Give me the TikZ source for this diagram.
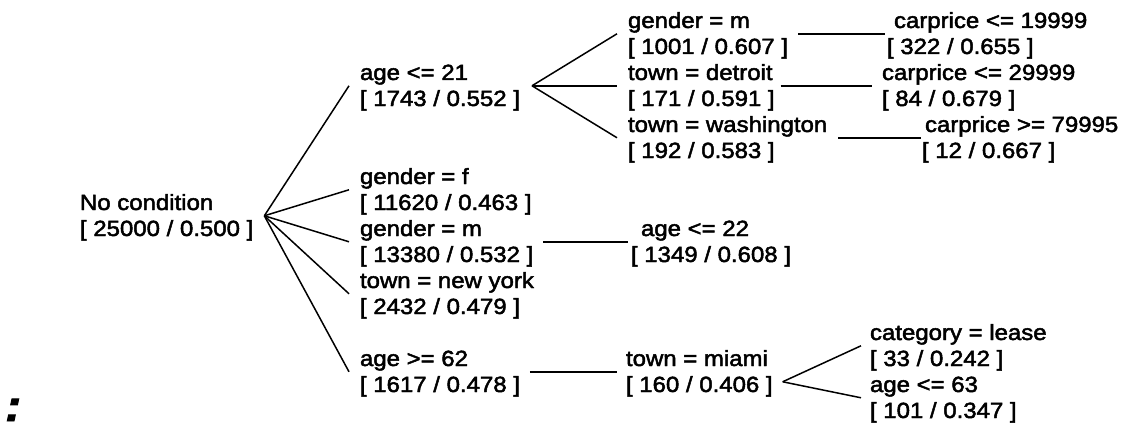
\documentclass[tikz,border=0pt]{standalone}
\usepackage{fontspec}
\setmainfont{Liberation Sans}[FakeStretch=1.09, FakeBold=2.2]
\usetikzlibrary{calc}
\newcommand\sr{\rule[-4pt]{0pt}{23pt}}
\tikzset{
  tn/.style={anchor=north west, inner sep=0pt, outer sep=0pt, align=left,
    font=\fontsize{22}{26}\selectfont},
  edge/.style={line width=1.5pt, black}
}
\begin{document}
\begin{tikzpicture}[x=1pt,y=1pt]
\useasboundingbox (0,0) rectangle (1132,424);
% root
\node[tn] (root) at (80,233) {\sr No condition\\\sr{}[ 25000 / 0.500 ]};
% level 1
\node[tn] (a21) at (360,363) {\sr age <= 21\\\sr{}[ 1743 / 0.552 ]};
\node[tn] (gf)  at (360,259) {\sr gender = f\\\sr{}[ 11620 / 0.463 ]};
\node[tn] (gm)  at (360,207) {\sr gender = m\\\sr{}[ 13380 / 0.532 ]};
\node[tn] (ny)  at (360,155) {\sr town = new york\\\sr{}[ 2432 / 0.479 ]};
\node[tn] (a62) at (360,77)  {\sr age >= 62\\\sr{}[ 1617 / 0.478 ]};
% level 2
\node[tn] (gm2)  at (628,415) {\sr gender = m\\\sr{}[ 1001 / 0.607 ]};
\node[tn] (det)  at (628,363) {\sr town = detroit\\\sr{}[ 171 / 0.591 ]};
\node[tn] (wash) at (628,311) {\sr town = washington\\\sr{}[ 192 / 0.583 ]};
\node[tn] (age22) at (631,207) {\hspace*{10pt}\sr age <= 22\\\sr{}[ 1349 / 0.608 ]};
\node[tn] (miami) at (626,77) {\sr town = miami\\\sr{}[ 160 / 0.406 ]};
% level 3
\node[tn] (cp1) at (887,415) {\hspace*{7pt}\sr carprice <= 19999\\\sr{}[ 322 / 0.655 ]};
\node[tn] (cp2) at (882,363) {\sr carprice <= 29999\\\sr{}[ 84 / 0.679 ]};
\node[tn] (cp3) at (922,311) {\hspace*{3pt}\sr carprice >= 79995\\\sr{}[ 12 / 0.667 ]};
\node[tn] (lease) at (870,103) {\sr category = lease\\\sr{}[ 33 / 0.242 ]};
\node[tn] (a63)   at (870,51)  {\sr age <= 63\\\sr{}[ 101 / 0.347 ]};
% colon at bottom left
\node[anchor=base west, inner sep=0pt, font=\fontsize{44}{44}\selectfont\bfseries\itshape] (colon) at (5,3) {:};
% fans
\coordinate (rf) at ([xshift=11pt]root.east);
\foreach \c in {a21,gf,gm,ny,a62} \draw[edge] (rf) -- ([xshift=-11pt]\c.west);
\coordinate (af) at ([xshift=12pt]a21.east);
\foreach \c in {gm2,det,wash} \draw[edge] (af) -- ([xshift=-11pt]\c.west);
\coordinate (mf) at ([xshift=10pt,yshift=-10pt]miami.east);
\foreach \c in {lease,a63} \draw[edge] (mf) -- ([xshift=-9pt]\c.west);
% horizontal links
\draw[edge, shorten <=10pt, shorten >=2pt] (gm2.east) -- (cp1.west);
\draw[edge, shorten <=6pt, shorten >=10pt] (det.east) -- (cp2.west);
\draw[edge, shorten <=11pt, shorten >=1pt] (wash.east) -- (cp3.west);
\draw[edge, shorten <=10pt, shorten >=3pt] (gm.east) -- (age22.west);
\draw[edge, shorten <=10pt, shorten >=9pt] (a62.east) -- (miami.west);
\end{tikzpicture}
\end{document}
